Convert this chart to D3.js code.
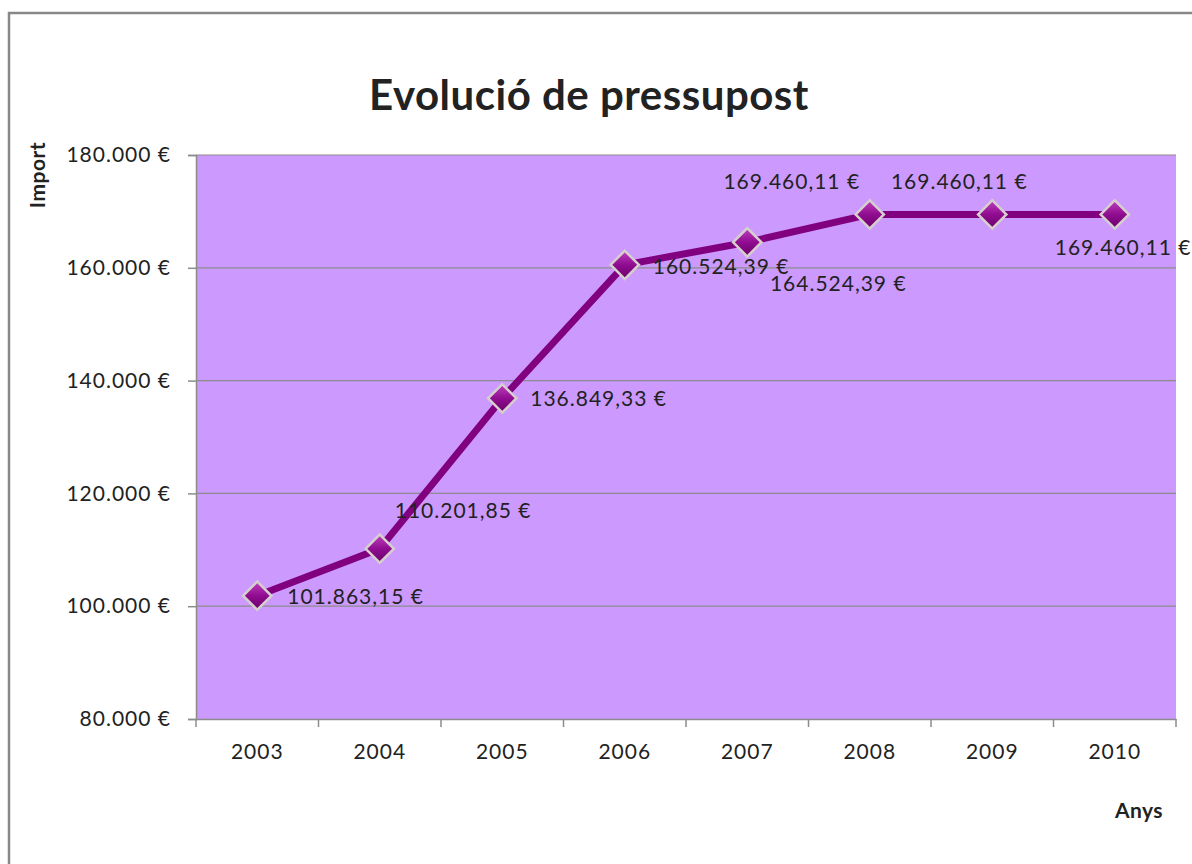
<!DOCTYPE html>
<html>
<head>
<meta charset="utf-8">
<script src="https://cdn.jsdelivr.net/npm/d3@7"></script>
<style>
  body { margin: 0; background: #fff; }
  text { font-family: Lato, "Open Sans", sans-serif; fill: #222; }
</style>
</head>
<body>
<script>
// data
const years = ["2003", "2004", "2005", "2006", "2007", "2008", "2009", "2010"];
const imports = [101863.15, 110201.85, 136849.33, 160524.39, 164524.39, 169460.11, 169460.11, 169460.11];
const yTicks = [80000, 100000, 120000, 140000, 160000, 180000];
// where each data label sits relative to its point (dx, dy, anchor)
const labelDx = [30, 15, 28, 28, 91, -78, -33, -60];
const labelDy = [8, -31, 8, 9, 49, -25, -25, 41];
const labelAnchor = ["start", "start", "start", "start", "middle", "middle", "middle", "start"];

const width = 1192, height = 864;
const plot = {left: 196, right: 1176, top: 155, bottom: 719};

const svg = d3.select("body")
    .append("svg")
    .attr("width", width)
    .attr("height", height);

// chart frame
svg.append("rect")
    .attr("x", 9).attr("y", 13)
    .attr("width", width).attr("height", height)
    .attr("fill", "none")
    .attr("stroke", "#888")
    .attr("stroke-width", 2.5);

const caLocale = d3.formatLocale({decimal: ",", thousands: ".", grouping: [3], currency: ["", "\u00a0€"]});
const fmtTick = caLocale.format("$,.0f");
const fmtVal = caLocale.format("$,.2f");

const x = d3.scaleBand()
    .domain(years)
    .range([plot.left, plot.right]);

const y = d3.scaleLinear()
    .domain([80000, 180000])
    .range([plot.bottom, plot.top]);

// plot background
svg.append("rect")
    .attr("x", plot.left).attr("y", plot.top)
    .attr("width", plot.right - plot.left)
    .attr("height", plot.bottom - plot.top)
    .attr("fill", "#cc99ff");

// gridlines
svg.append("g")
    .selectAll("line")
    .data(yTicks.slice(1))
    .enter()
    .append("line")
    .attr("x1", plot.left).attr("x2", plot.right)
    .attr("y1", d => y(d)).attr("y2", d => y(d))
    .attr("stroke", "#8c8c8c")
    .attr("stroke-width", 1.2);

// Y axis
const yAxis = svg.append("g")
    .attr("transform", `translate(${plot.left},0)`)
    .call(d3.axisLeft(y).tickValues(yTicks).tickFormat(fmtTick).tickSize(8).tickPadding(17));
yAxis.select(".domain").attr("stroke", "#8c8c8c").attr("stroke-width", 1.5);
yAxis.selectAll(".tick line").attr("stroke", "#8c8c8c").attr("stroke-width", 1.5);
yAxis.selectAll(".tick text")
    .attr("font-size", 21).attr("fill", "#222")
    .attr("letter-spacing", 1)
    .style("font-family", "Lato, sans-serif");

// X axis: ticks sit at the band boundaries
const xAxis = svg.append("g")
    .attr("transform", `translate(0,${plot.bottom})`)
    .call(d3.axisBottom(x).tickSize(0).tickPadding(25));
xAxis.select(".domain").attr("stroke", "#8c8c8c").attr("stroke-width", 1.5);
xAxis.selectAll(".tick text")
    .attr("font-size", 21).attr("fill", "#222")
    .attr("letter-spacing", 1)
    .style("font-family", "Lato, sans-serif");
xAxis.selectAll(".boundary")
    .data(d3.range(years.length + 1))
    .enter()
    .append("line")
    .attr("x1", i => plot.left + i * x.bandwidth())
    .attr("x2", i => plot.left + i * x.bandwidth())
    .attr("y1", 0).attr("y2", 8)
    .attr("stroke", "#8c8c8c")
    .attr("stroke-width", 1.5);

const pts = years.map((d, i) => ({year: d, value: imports[i], dx: labelDx[i], dy: labelDy[i], anchor: labelAnchor[i]}));

// line
const line = d3.line()
    .x(d => x(d.year) + x.bandwidth() / 2)
    .y(d => y(d.value));
svg.append("path")
    .datum(pts)
    .attr("fill", "none")
    .attr("stroke", "#800080")
    .attr("stroke-width", 7)
    .attr("stroke-linejoin", "round")
    .attr("d", line);

// marker gradient
const defs = svg.append("defs");
const grad = defs.append("linearGradient")
    .attr("id", "mk").attr("x1", 0).attr("y1", 0).attr("x2", 1).attr("y2", 1);
grad.append("stop").attr("offset", "0%").attr("stop-color", "#c040c0");
grad.append("stop").attr("offset", "50%").attr("stop-color", "#900c90");
grad.append("stop").attr("offset", "100%").attr("stop-color", "#6a006a");

const diamond = d3.symbol().type(d3.symbolSquare).size(400);
svg.append("g")
    .selectAll("path")
    .data(pts)
    .enter()
    .append("path")
    .attr("d", diamond)
    .attr("transform", d => `translate(${x(d.year) + x.bandwidth() / 2},${y(d.value)}) rotate(45)`)
    .attr("fill", "url(#mk)")
    .attr("stroke", "#d6d0cc")
    .attr("stroke-width", 2.5);

// data labels
svg.append("g")
    .selectAll("text")
    .data(pts)
    .enter()
    .append("text")
    .attr("x", d => x(d.year) + x.bandwidth() / 2 + d.dx)
    .attr("y", d => y(d.value) + d.dy)
    .attr("text-anchor", d => d.anchor)
    .attr("font-size", 21)
    .attr("letter-spacing", 1)
    .text(d => fmtVal(d.value));

// title and axis titles
svg.append("text")
    .attr("x", 589).attr("y", 110)
    .attr("text-anchor", "middle")
    .attr("font-size", 42)
    .attr("font-weight", "bold")
    .attr("letter-spacing", 0.5)
    .attr("fill", "#000")
    .text("Evolució de pressupost");

svg.append("text")
    .attr("transform", "translate(45,175) rotate(-90)")
    .attr("text-anchor", "middle")
    .attr("font-size", 21)
    .attr("font-weight", "bold")
    .attr("letter-spacing", 0.5)
    .attr("fill", "#000")
    .text("Import");

svg.append("text")
    .attr("x", 1139).attr("y", 818)
    .attr("text-anchor", "middle")
    .attr("font-size", 21)
    .attr("font-weight", "bold")
    .attr("letter-spacing", 0.5)
    .attr("fill", "#000")
    .text("Anys");
</script>
</body>
</html>
